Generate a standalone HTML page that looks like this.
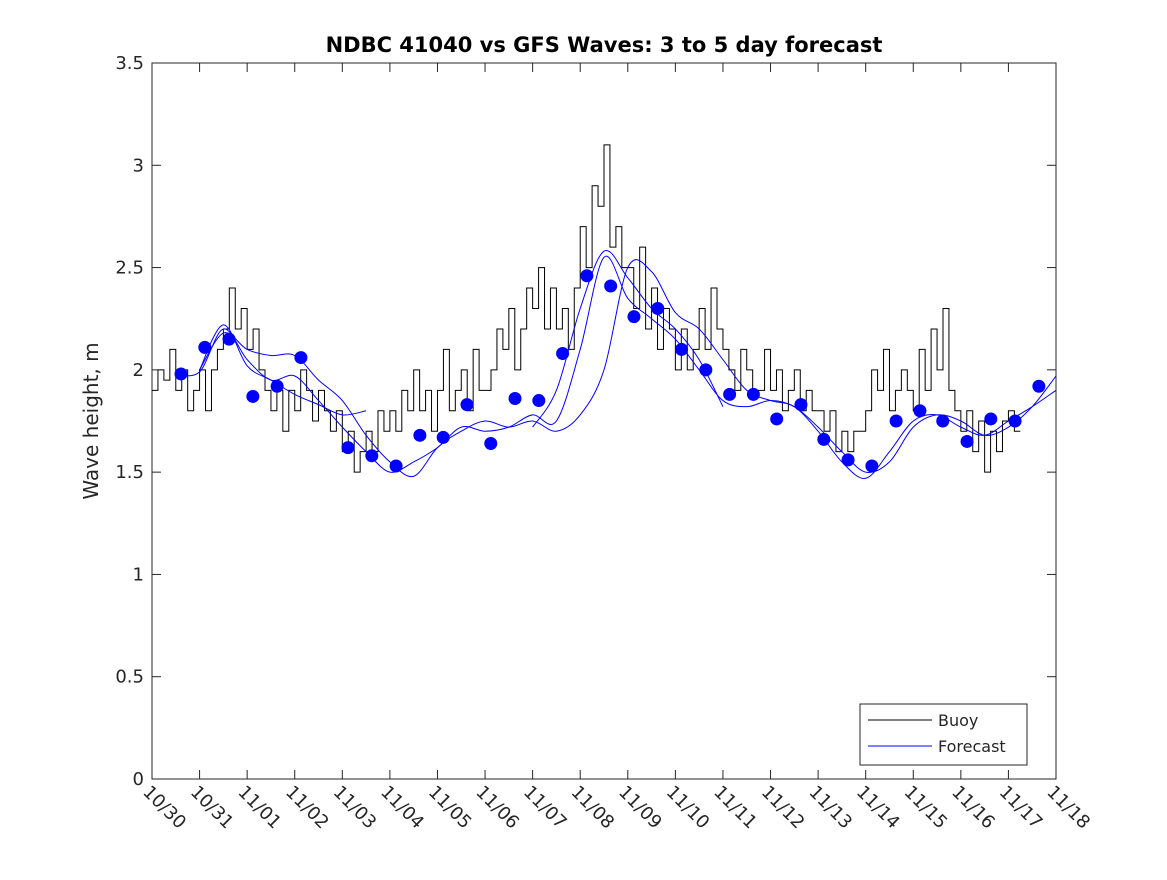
<!DOCTYPE html>
<html><head><meta charset="utf-8"><style>
body{margin:0;background:#fff}
text{font-family:"DejaVu Sans","Liberation Sans",sans-serif;fill:#262626}
</style></head><body>
<svg id="chart" width="1167" height="875" xmlns="http://www.w3.org/2000/svg">
<rect width="1167" height="875" fill="#fff"/>
<rect x="152" y="63" width="904" height="716" fill="#fff" stroke="#262626" stroke-width="1"/>
<g id="series"></g>
<g id="axes"></g>
<text x="604" y="52" text-anchor="middle" font-size="21" font-weight="bold" style="fill:#000">NDBC 41040 vs GFS Waves: 3 to 5 day forecast</text>
<text transform="translate(98,421) rotate(-90)" text-anchor="middle" font-size="20">Wave height, m</text>
<g>
<rect x="860" y="704" width="167" height="61" fill="#fff" stroke="#262626"/>
<line x1="868" y1="720" x2="932" y2="720" stroke="#000"/>
<text x="938" y="726" font-size="16">Buoy</text>
<line x1="868" y1="746" x2="932" y2="746" stroke="#00f"/>
<text x="938" y="752" font-size="16">Forecast</text>
</g>
</svg>
<script>
const xTickLabels=["10/30","10/31","11/01","11/02","11/03","11/04","11/05","11/06","11/07","11/08","11/09","11/10","11/11","11/12","11/13","11/14","11/15","11/16","11/17","11/18"];
const yTicks=[0,0.5,1,1.5,2,2.5,3,3.5];
const buoyStart=0, buoyStep=0.125;
const buoy=[1.9,2.0,1.95,2.1,1.9,2.0,1.8,1.9,
2.0,1.8,2.0,2.1,2.2,2.4,2.2,2.3,
2.1,2.2,2.0,1.9,1.8,1.9,1.7,1.9,
1.8,2.0,1.9,1.75,1.9,1.8,1.7,1.8,
1.6,1.7,1.5,1.6,1.7,1.6,1.8,1.7,
1.8,1.7,1.9,1.8,2.0,1.8,1.9,1.7,
1.9,2.1,1.8,1.9,2.0,1.8,2.1,1.9,
1.9,2.0,2.2,2.1,2.3,2.0,2.2,2.4,
2.3,2.5,2.2,2.4,2.2,2.3,2.1,2.4,
2.7,2.5,2.9,2.8,3.1,2.6,2.7,2.5,
2.5,2.3,2.6,2.2,2.4,2.1,2.3,2.2,
2.0,2.2,2.0,2.1,2.3,2.1,2.4,2.2,
2.1,2.0,1.9,2.1,2.0,1.9,1.9,2.1,
1.9,2.0,1.8,1.9,2.0,1.8,1.9,1.8,
1.8,1.7,1.8,1.6,1.7,1.6,1.7,1.7,
1.8,2.0,1.9,2.1,1.8,1.9,2.0,1.9,
1.8,2.1,1.9,2.2,2.0,2.3,1.9,1.8,
1.7,1.8,1.6,1.75,1.5,1.7,1.6,1.75,
1.8,1.7];
const fStep=0.5;
const f1Start=0.5;
const f1=[1.98,1.99,2.2,2.05,1.95,1.97,1.85,1.72,1.6,1.5,1.55,1.62,1.72,1.7,1.72,1.78,1.75,2.1,2.55,2.35,2.25,2.15,2.0,1.85,1.82,1.85,1.82,1.72,1.6,1.5,1.55,1.72,1.78,1.75,1.68,1.72,1.82,1.97];
const f2Start=1.0;
const f2=[2.0,2.18,2.1,2.07,2.07,1.95,1.85,1.68,1.55,1.48,1.62,1.7,1.75,1.72,1.75,1.7,1.78,2.0,2.5,2.48,2.28,2.2,2.05,1.9,1.85,1.82,1.7,1.55,1.47,1.6,1.75,1.78,1.72,1.68,1.75,1.82,1.9];
const f3Start=1.0;
const f3=[2.0,2.22,2.02,1.95,1.88,1.83,1.78,1.8];
const f4Start=8.0;
const f4=[1.72,1.9,2.3,2.58,2.45,2.3,2.2,2.05,1.82];
const dotDays=[0.61,1.11,1.62,2.12,2.63,3.13,4.12,4.62,5.13,5.63,6.12,6.62,7.12,7.63,8.13,8.63,9.14,9.64,10.13,10.63,11.13,11.64,12.14,12.64,13.13,13.64,14.12,14.63,15.13,15.64,16.14,16.62,17.13,17.63,18.14,18.64];
const dotVals=[1.98,2.11,2.15,1.87,1.92,2.06,1.62,1.58,1.53,1.68,1.67,1.83,1.64,1.86,1.85,2.08,2.46,2.41,2.26,2.30,2.10,2.00,1.88,1.88,1.76,1.83,1.66,1.56,1.53,1.75,1.80,1.75,1.65,1.76,1.75,1.92];

const X0=152,X1=1056,Y0=779,Y1=63;
const xs=d=>X0+(X1-X0)*d/19;
const ys=v=>Y0-(Y0-Y1)*v/3.5;
const NS="http://www.w3.org/2000/svg";
const ser=document.getElementById('series'), ax=document.getElementById('axes');
function mk(t,a,p){const e=document.createElementNS(NS,t);for(const k in a)e.setAttribute(k,a[k]);p.appendChild(e);return e;}

let d="";
buoy.forEach((v,i)=>{const x=xs(buoyStart+i*buoyStep),y=ys(v);
 if(i===0)d+=`M${x},${y}`;else d+=`H${x}V${y}`;});
d+=`H${xs(buoyStart+buoy.length*buoyStep)}`;
const bl=mk('path',{d:d,fill:'none',stroke:'#000','stroke-width':1},ser);



function smooth(arr,start){
 const pts=arr.map((v,i)=>[xs(start+i*fStep),ys(v)]);
 let p=`M${pts[0][0]},${pts[0][1]}`;
 for(let i=0;i<pts.length-1;i++){
  const p0=pts[Math.max(0,i-1)],p1=pts[i],p2=pts[i+1],p3=pts[Math.min(pts.length-1,i+2)];
  const c1=[p1[0]+(p2[0]-p0[0])/6,p1[1]+(p2[1]-p0[1])/6];
  const c2=[p2[0]-(p3[0]-p1[0])/6,p2[1]-(p3[1]-p1[1])/6];
  p+=`C${c1[0]},${c1[1]} ${c2[0]},${c2[1]} ${p2[0]},${p2[1]}`;
 }
 return p;
}
[[f1,f1Start,'forecast-line-1'],[f2,f2Start,'forecast-line-2'],[f3,f3Start,'forecast-line-3'],[f4,f4Start,'forecast-line-4']].forEach(([a,s,n])=>{
 const e=mk('path',{d:smooth(a,s),fill:'none',stroke:'#00f','stroke-width':1},ser);
 
 
});
dotDays.forEach((dd,i)=>{
 const c=mk('circle',{cx:xs(dd),cy:ys(dotVals[i]),r:6.5,fill:'#00f'},ser);
 
 
});

yTicks.forEach(v=>{
 const y=ys(v);
 mk('line',{x1:X0,y1:y,x2:X0+9,y2:y,stroke:'#262626'},ax);
 mk('line',{x1:X1,y1:y,x2:X1-9,y2:y,stroke:'#262626'},ax);
 const t=mk('text',{x:X0-8,y:y+6,'text-anchor':'end','font-size':18},ax);
 t.textContent=String(v);
 
 
});
xTickLabels.forEach((l,i)=>{
 const x=xs(i);
 mk('line',{x1:x,y1:Y0,x2:x,y2:Y0-9,stroke:'#262626'},ax);
 mk('line',{x1:x,y1:Y1,x2:x,y2:Y1+9,stroke:'#262626'},ax);
 const t=mk('text',{transform:`translate(${x-10},${Y0+14}) rotate(45)`,'font-size':18},ax);
 t.textContent=l;
 
 
});
</script>
</body></html>
